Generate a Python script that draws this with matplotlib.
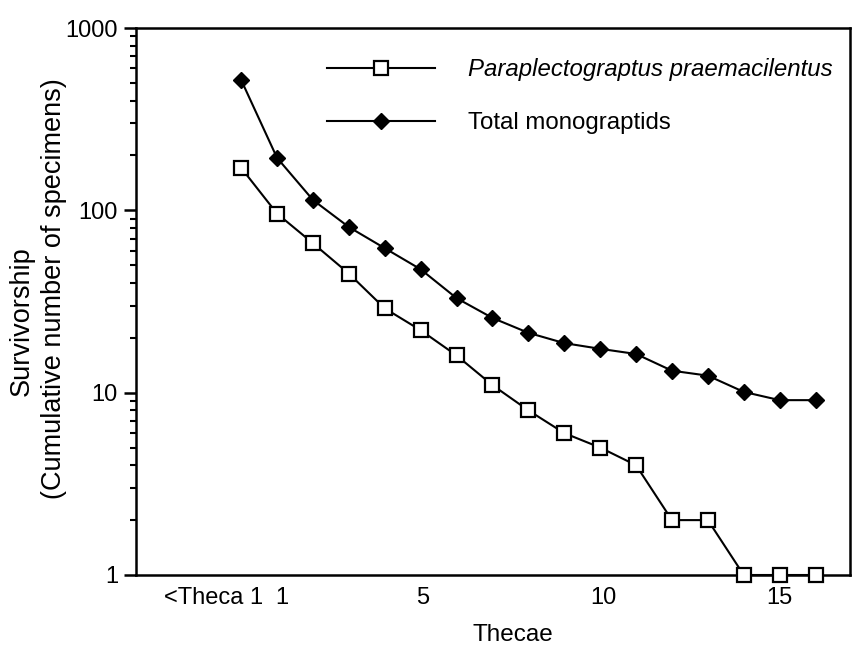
import matplotlib
matplotlib.use("Agg")
import matplotlib.pyplot as plt
from matplotlib.ticker import LogLocator, NullFormatter, FixedLocator

plt.rcParams["font.family"] = ["Liberation Sans", "DejaVu Sans"]

# thecal position: 0 = "<Theca 1", then thecae 1..16
thecae = list(range(0, 17))
praemacilentus = [171, 96, 66, 45, 29, 22, 16, 11, 8, 6, 5, 4, 2, 2, 1, 1, 1]
total_monograptids = [519, 194, 114, 81, 62, 47.5, 33, 25.7, 21.3, 18.7, 17.4, 16.3,
                      13.2, 12.4, 10.1, 9.1, 9.1]

tick_pos = [-0.78, 1.12, 5.05, 10.08, 15]
tick_labels = ["<Theca 1", "1", "5", "10", "15"]
y_ticks = [1, 10, 100, 1000]

fig = plt.figure(figsize=(8.53, 6.52), dpi=100)
ax = fig.add_axes([0.1594, 0.1181, 0.8371, 0.8389])

ax.plot(thecae, praemacilentus, color="black", lw=1.5, marker="s", ms=9.5,
        mfc="white", mec="black", mew=1.6, label="Paraplectograptus praemacilentus",
        clip_on=False, zorder=3)
ax.plot(thecae, total_monograptids, color="black", lw=1.5, marker="D", ms=8,
        mfc="black", mec="black", label="Total monograptids", clip_on=False, zorder=3)

ax.set_yscale("log")
ax.set_ylim(1, 1000)
ax.set_xlim(-2.93, 16.96)

ax.yaxis.set_major_locator(FixedLocator(y_ticks))
ax.set_yticklabels([str(v) for v in y_ticks])
ax.yaxis.set_minor_locator(LogLocator(base=10, subs=range(2, 10)))
ax.yaxis.set_minor_formatter(NullFormatter())
ax.tick_params(axis="y", which="major", direction="out", length=9, width=1.8,
               labelsize=17, pad=4)
ax.tick_params(axis="y", which="minor", direction="out", length=4.5, width=1.5)

ax.set_xticks(tick_pos)
ax.set_xticklabels(tick_labels)
ax.tick_params(axis="x", which="both", length=0, labelsize=17, pad=9)

for spine in ax.spines.values():
    spine.set_linewidth(1.8)

ax.set_xlabel("Thecae", fontsize=17.5)
ax.xaxis.set_label_coords(0.528, -0.09)
# two-line y label: lines are not centred on the same height in the original
ax.set_ylabel("(Cumulative number of specimens)", fontsize=19.5)
ax.yaxis.set_label_coords(-0.097, 0.523)
ax.text(-0.160, 0.464, "Survivorship", transform=ax.transAxes, fontsize=19.5,
        rotation=90, ha="center", va="center")

leg = ax.legend(loc="upper left", bbox_to_anchor=(0.2675, 0.945), frameon=False,
                fontsize=17.3, handlelength=4.5, handletextpad=1.38,
                labelspacing=1.3, borderpad=0, borderaxespad=0)
leg.get_texts()[0].set_style("italic")

fig.savefig("out.png", dpi=100)
